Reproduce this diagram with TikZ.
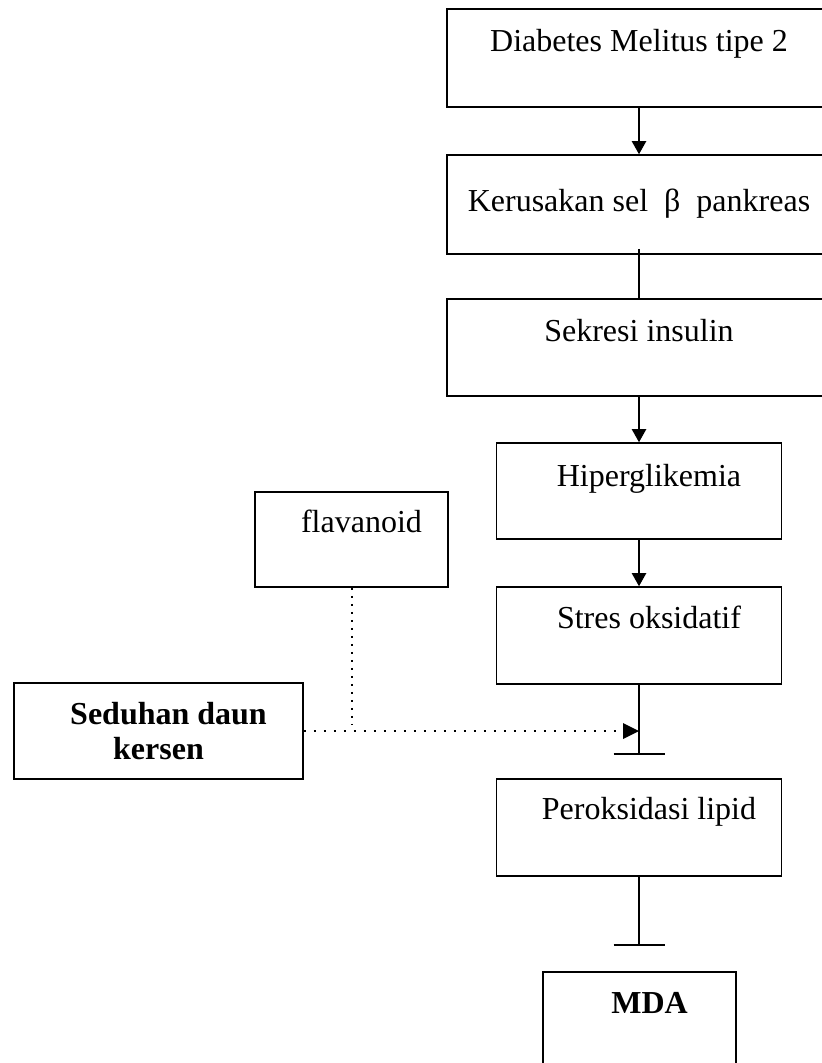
\documentclass[tikz,border=0pt]{standalone}
\usepackage{fontspec}
\setmainfont{Liberation Serif}
\usepackage{tikz}

\begin{document}
\begin{tikzpicture}[x=1pt,y=1pt]
\tikzstyle{every node}+=[inner sep=0pt]
\tikzstyle{box}=[draw=black, line width=1.6pt, font=\fontsize{32}{35}\selectfont]
\clip (0,0) rectangle (822,-1063);
\node [box, minimum width=384pt, text height=42pt, text depth=56pt] (dm) at (639,-58) {Diabetes Melitus tipe 2};
\node [box, minimum width=384pt, text height=56pt, text depth=43pt] (ks) at (639,-204.5) {Kerusakan sel~ β~ pankreas};
\node [box, minimum width=384pt, text height=42pt, text depth=55pt] (si) at (639,-347.5) {Sekresi insulin};
\node [box, minimum width=285pt, text height=43pt, text depth=53pt] (hg) at (639,-491) {\hspace*{20pt}Hiperglikemia};
\node [box, minimum width=285pt, text height=41pt, text depth=56pt] (so) at (639,-635.5) {\hspace*{20pt}Stres oksidatif};
\node [box, minimum width=285pt, text height=40pt, text depth=57pt] (pl) at (639,-827.5) {\hspace*{20pt}Peroksidasi lipid};
\node [box, minimum width=193pt, text height=41pt, text depth=59pt, font=\fontsize{32}{35}\selectfont\bfseries] (mda) at (639.5,-1022) {\hspace*{20pt}MDA};
\node [box, minimum width=193pt, text height=40pt, text depth=55pt] (fl) at (351.5,-539.5) {\hspace*{20pt}flavanoid};
\node [box, minimum width=289pt, minimum height=96pt, align=center, font=\fontsize{32}{35}\selectfont\bfseries] (sd) at (158.5,-731) {\hspace*{20pt}Seduhan daun\\kersen};
% main chain
\draw [black, line width=2pt] (dm.south) -- ([yshift=13pt]ks.north);
\fill [black] (ks.north) -- ++(-7.3,13) -- ++(14.6,0) -- cycle;
\draw [black, line width=1.4pt] ([yshift=6pt]ks.south) -- (si.north);
\draw [black, line width=2pt] (si.south) -- ([yshift=13pt]hg.north);
\fill [black] (hg.north) -- ++(-7.3,13) -- ++(14.6,0) -- cycle;
\draw [black, line width=2pt] (hg.south) -- ([yshift=13pt]so.north);
\fill [black] (so.north) -- ++(-7.3,13) -- ++(14.6,0) -- cycle;
% inhibition bars
\coordinate (bar1) at ([yshift=-69pt]so.south);
\draw [black, line width=1.4pt] (so.south) -- (bar1);
\draw [black, line width=1.8pt] ([xshift=-25.5pt]bar1) -- ([xshift=25.5pt]bar1);
\coordinate (bar2) at ([yshift=-68pt]pl.south);
\draw [black, line width=1.4pt] (pl.south) -- (bar2);
\draw [black, line width=1.8pt] ([xshift=-25.5pt]bar2) -- ([xshift=25.5pt]bar2);
% dotted inputs
\coordinate (hit) at (sd.east -| so.south);
\coordinate (join) at (fl.south |- sd.east);
\draw [black, line width=2.3pt, dash pattern=on 2.3pt off 7.7pt] (sd.east) -- ([xshift=-16pt]hit);
\fill [black] (hit) -- ++(-16,8) -- ++(0,-16) -- cycle;
\draw [black, line width=2pt, dash pattern=on 2pt off 6pt] (fl.south) -- ([yshift=6pt]join);
\end{tikzpicture}
\end{document}
